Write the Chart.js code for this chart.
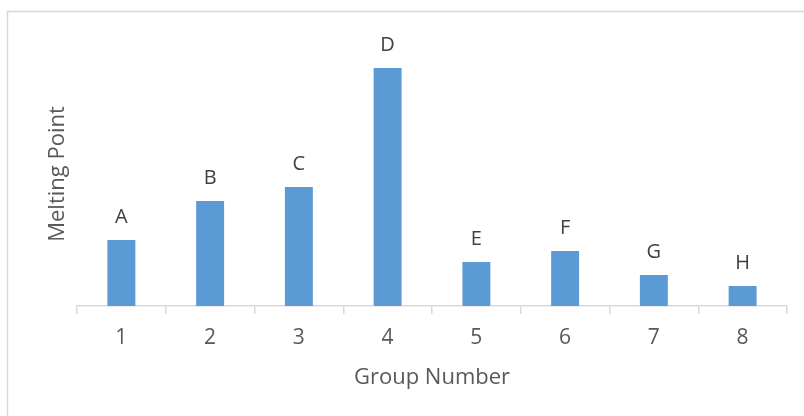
<!DOCTYPE html>
<html>
<head>
<meta charset="utf-8">
<script src="https://cdn.jsdelivr.net/npm/chart.js@4/dist/chart.umd.min.js"></script>
<style>
  html, body { margin: 0; padding: 0; background: #ffffff; }
  canvas { display: block; }
</style>
</head>
<body>
<canvas id="chart" width="804" height="416"></canvas>
<script>
// Group numbers along the x axis
const groups = ['1', '2', '3', '4', '5', '6', '7', '8'];
// Element letter shown above each bar
const letters = ['A', 'B', 'C', 'D', 'E', 'F', 'G', 'H'];
// Melting point for each group (relative units, no scale shown)
const meltingPoints = [66, 105, 119, 238, 44, 55, 31, 20];
const yMax = 264;

const FONT = "'Open Sans', 'DejaVu Sans', sans-serif";

// Light grey frame around the whole chart
const framePlugin = {
  id: 'frame',
  beforeDraw(chart) {
    const ctx = chart.ctx;
    ctx.save();
    ctx.fillStyle = '#ffffff';
    ctx.fillRect(0, 0, chart.width, chart.height);
    ctx.strokeStyle = '#d9d9d9';
    ctx.lineWidth = 1.5;
    ctx.strokeRect(7.5, 11.5, chart.width + 20, chart.height + 20);
    ctx.restore();
  }
};

// Letter labels drawn above each bar
const letterPlugin = {
  id: 'letters',
  afterDatasetsDraw(chart) {
    const ctx = chart.ctx;
    const meta = chart.getDatasetMeta(0);
    ctx.save();
    ctx.font = '20px ' + FONT;
    ctx.fillStyle = '#404040';
    ctx.textAlign = 'center';
    ctx.textBaseline = 'alphabetic';
    meta.data.forEach((bar, i) => {
      ctx.fillText(letters[i], bar.x, bar.y - 17);
    });
    ctx.restore();
  }
};

new Chart(document.getElementById('chart'), {
  type: 'bar',
  data: {
    labels: groups,
    datasets: [{
      data: meltingPoints,
      backgroundColor: '#5b9bd5',
      borderWidth: 0,
      barPercentage: 0.315,
      categoryPercentage: 1.0
    }]
  },
  options: {
    responsive: false,
    devicePixelRatio: 1,
    animation: false,
    layout: { padding: { top: 42, right: 17, bottom: 0, left: 0 } },
    plugins: {
      legend: { display: false },
      tooltip: { enabled: false }
    },
    scales: {
      x: {
        grid: {
          display: true,
          offset: true,
          drawOnChartArea: false,
          drawTicks: true,
          tickLength: 8,
          color: '#d9d9d9',
          lineWidth: 1.5
        },
        border: { display: true, color: '#d9d9d9', width: 1.5 },
        ticks: {
          color: '#595959',
          font: { family: FONT, size: 21 },
          padding: 11
        },
        title: {
          display: true,
          text: 'Group Number',
          color: '#595959',
          font: { family: FONT, size: 22 },
          padding: { top: 0, bottom: 25 }
        },
        afterFit(scale) { scale.height = 110; }
      },
      y: {
        min: 0,
        max: yMax,
        grid: { display: false },
        border: { display: false },
        ticks: { display: false },
        title: {
          display: true,
          text: 'Melting Point',
          color: '#595959',
          font: { family: FONT, size: 22 },
          padding: { top: 45, bottom: 0 }
        },
        afterFit(scale) { scale.width = 77; }
      }
    }
  },
  plugins: [framePlugin, letterPlugin]
});
</script>
</body>
</html>
